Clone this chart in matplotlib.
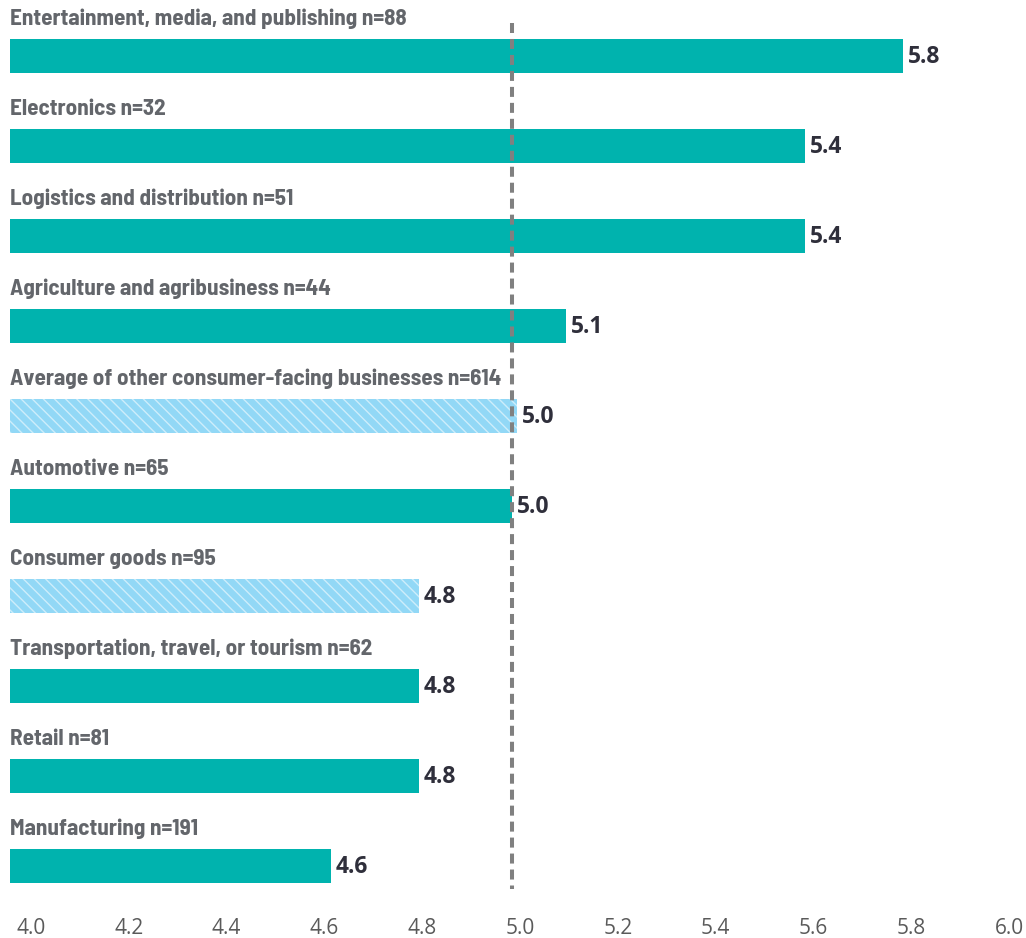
import matplotlib
matplotlib.use("Agg")
import matplotlib.pyplot as plt
import matplotlib.transforms as mtransforms

# ---- data ----
categories = [
    "Entertainment, media, and publishing n=88",
    "Electronics n=32",
    "Logistics and distribution n=51",
    "Agriculture and agribusiness n=44",
    "Average of other consumer-facing businesses n=614",
    "Automotive n=65",
    "Consumer goods n=95",
    "Transportation, travel, or tourism n=62",
    "Retail n=81",
    "Manufacturing n=191",
]
values = [5.8, 5.6, 5.6, 5.11, 5.01, 5.0, 4.81, 4.81, 4.81, 4.63]
value_labels = ["5.8", "5.4", "5.4", "5.1", "5.0", "5.0", "4.8", "4.8", "4.8", "4.6"]
hatched = [False, False, False, False, True, False, True, False, False, False]
xticks = [4.0, 4.2, 4.4, 4.6, 4.8, 5.0, 5.2, 5.4, 5.6, 5.8, 6.0]
reference_value = 5.0

# ---- style ----
TEAL = "#00B3AE"
LIGHTBLUE = "#92D8F6"
CAT_COLOR = "#63666B"
VAL_COLOR = "#2F2F3B"
TICK_COLOR = "#5A5A5A"
DASH_COLOR = "#808080"

cat_family = ["Barlow Semi Condensed", "DejaVu Sans"]
val_family = ["Open Sans", "DejaVu Sans"]

plt.rcParams["hatch.linewidth"] = 1.0
plt.rcParams["lines.scale_dashes"] = False

W, H = 1026, 938
fig = plt.figure(figsize=(W / 100, H / 100), dpi=100)
bottom_px = 905
ax = fig.add_axes([0, (H - bottom_px) / H, 1, bottom_px / H])

px_per_unit = 489.0
ax.set_xlim(reference_value - 512 / px_per_unit, reference_value + (W - 512) / px_per_unit)
row = 90.0
ax.set_ylim((bottom_px - 56) / row, -56 / row)

bar_start = reference_value - 502 / px_per_unit
bar_h = 34 / row

# fit category font size to the label widths seen in the reference
renderer = fig.canvas.get_renderer()
fit_idx = [0, 1, 4]
target_total = 408 + 149 + 487
measured = 0.0
for k in fit_idx:
    probe = fig.text(0, 0, categories[k], fontsize=16, family=cat_family, weight="bold")
    measured += probe.get_window_extent(renderer).width
    probe.remove()
cat_size = max(14.0, min(18.0, 16 * target_total / measured))

for i, (cat, v, lab, hat) in enumerate(zip(categories, values, value_labels, hatched)):
    if hat:
        ax.barh(i, v - bar_start, left=bar_start, height=bar_h, color=LIGHTBLUE,
                edgecolor=(1, 1, 1, 0.55), linewidth=0, hatch="\\\\\\", zorder=2)
    else:
        ax.barh(i, v - bar_start, left=bar_start, height=bar_h, color=TEAL,
                linewidth=0, zorder=2)
    ax.text(bar_start, i - 31 / row, cat, ha="left", va="baseline",
            fontsize=cat_size, color=CAT_COLOR, family=cat_family, weight="bold")
    ax.annotate(lab, xy=(v, i), xytext=(3.5, -0.5), textcoords="offset points",
                ha="left", va="center", fontsize=16.5, fontweight="bold",
                family=val_family, color=VAL_COLOR, zorder=4)

ax.plot([reference_value, reference_value], [-33 / row, (889 - 56) / row],
        color=DASH_COLOR, linewidth=2.9, dashes=(7.2, 4.3), dash_capstyle="butt",
        zorder=3)

for s in ax.spines.values():
    s.set_visible(False)
ax.set_yticks([])
ax.set_xticks(xticks)
ax.set_xticklabels([f"{t:.1f}" for t in xticks])
ax.tick_params(axis="x", length=0, pad=9, labelsize=15, labelcolor=TICK_COLOR)
offset = mtransforms.ScaledTranslation(8 / 100, 0, fig.dpi_scale_trans)
for t in ax.get_xticklabels():
    t.set_family(val_family)
    t.set_transform(t.get_transform() + offset)

fig.savefig("out.png", dpi=100)
